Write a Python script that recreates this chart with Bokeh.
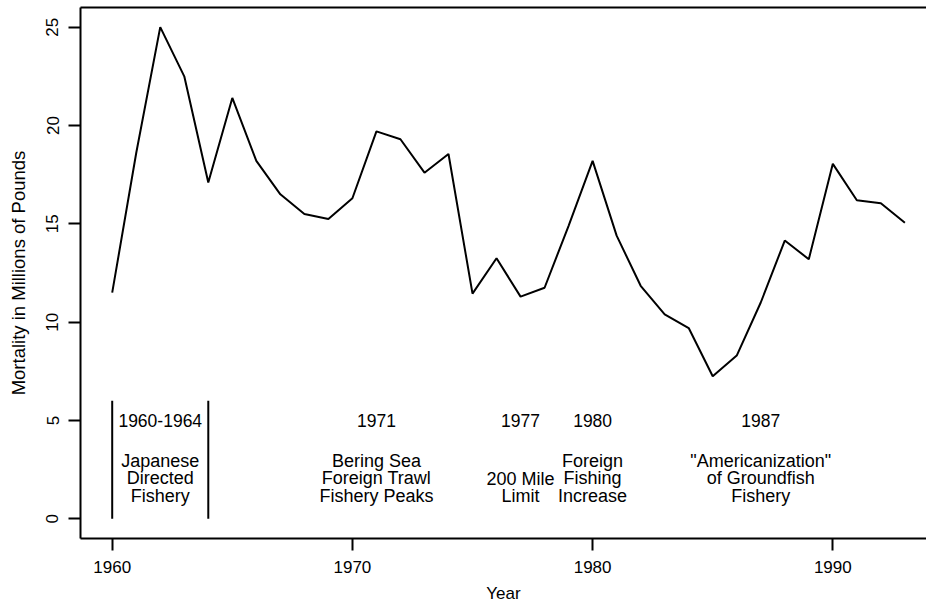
from bokeh.plotting import figure
from bokeh.models import FixedTicker, Range1d, ColumnDataSource, LinearAxis
from bokeh.core.properties import value
from bokeh.embed import file_html
from bokeh.resources import INLINE

# ---- data ----
years = list(range(1960, 1994))
mortality = [11.5, 18.6, 25.0, 22.5, 17.1, 21.4, 18.2, 16.5, 15.5, 15.25,
             16.3, 19.7, 19.3, 17.6, 18.55, 11.45, 13.25, 11.3, 11.75, 14.9,
             18.2, 14.4, 11.85, 10.4, 9.7, 7.25, 8.3, 11.0, 14.15, 13.2,
             18.05, 16.2, 16.05, 15.05]

x_ticks = [1960, 1970, 1980, 1990]
y_ticks = [0, 5, 10, 15, 20, 25]

period_x = [1962, 1971, 1977, 1980, 1987]
period_labels = ["1960-1964", "1971", "1977", "1980", "1987"]
period_y = 5
event_lines = [["Japanese", "Directed", "Fishery"],
               ["Bering Sea", "Foreign Trawl", "Fishery Peaks"],
               ["200 Mile", "Limit"],
               ["Foreign", "Fishing", "Increase"],
               ['"Americanization"', "of Groundfish", "Fishery"]]
event_y = [2.06, 2.06, 1.6, 2.06, 2.06]
bracket_x = [1960, 1964]
bracket_bottom = 0
bracket_top = 6

FONT = "Liberation Sans"
LINE_H = 17.7

p = figure(width=926, height=605, output_backend="svg", toolbar_location=None,
           x_range=Range1d(1958.68, 1993.9), y_range=Range1d(-1, 26),
           min_border_left=80, min_border_right=0, min_border_top=7,
           min_border_bottom=65)
p.background_fill_color = "white"
p.border_fill_color = "white"
p.outline_line_color = None
p.grid.visible = False

for ax in (p.xaxis[0], p.yaxis[0]):
    ax.axis_line_color = "black"
    ax.axis_line_width = 2
    ax.major_tick_in = 0
    ax.major_tick_out = 12
    ax.major_tick_line_width = 2
    ax.minor_tick_line_color = None
    ax.major_label_text_font = FONT
    ax.major_label_text_font_size = "17px"
    ax.major_label_text_color = "black"
    ax.axis_label_text_font = FONT
    ax.axis_label_text_font_size = "17px"
    ax.axis_label_text_font_style = "normal"
    ax.axis_label_text_color = "black"

p.xaxis[0].ticker = FixedTicker(ticks=x_ticks)
p.yaxis[0].ticker = FixedTicker(ticks=y_ticks)
p.xaxis[0].axis_label = "Year"
p.yaxis[0].axis_label = "Mortality in Millions of Pounds"
p.yaxis[0].axis_label_text_font_size = "18.5px"
p.xaxis[0].major_label_standoff = 10
p.xaxis[0].axis_label_standoff = 8
p.yaxis[0].major_label_orientation = "vertical"
p.yaxis[0].major_label_standoff = 10
p.yaxis[0].axis_label_standoff = 15

# top border of the box (right side runs off the page, as in the original)
top = LinearAxis(ticker=FixedTicker(ticks=[]), axis_line_color="black",
                 axis_line_width=2, major_tick_line_color=None,
                 minor_tick_line_color=None, major_label_text_font_size="0px",
                 major_label_standoff=0)
p.add_layout(top, "above")

# main series
p.line(years, mortality, line_color="black", line_width=2)

# brackets for 1960-1964
p.segment(x0=bracket_x, y0=[bracket_bottom] * len(bracket_x),
          x1=bracket_x, y1=[bracket_top] * len(bracket_x),
          line_color="black", line_width=2)

# period labels
p.text(x=period_x, y=[period_y] * len(period_x), text=period_labels,
       text_font=value(FONT), text_font_size="17.5px", text_color="black",
       text_align="center", text_baseline="middle")

# event descriptions, one glyph entry per line
xs, ys, txt, offs = [], [], [], []
for x, yc, lines in zip(period_x, event_y, event_lines):
    n = len(lines)
    for i, t in enumerate(lines):
        xs.append(x)
        ys.append(yc)
        txt.append(t)
        offs.append((i - (n - 1) / 2) * LINE_H)
src = ColumnDataSource(dict(x=xs, y=ys, text=txt, yo=offs))
p.text(x="x", y="y", text="text", y_offset="yo", source=src,
       text_font=value(FONT), text_font_size="18px", text_color="black",
       text_align="center", text_baseline="middle")

open("out.html", "w").write(file_html(p, INLINE))
